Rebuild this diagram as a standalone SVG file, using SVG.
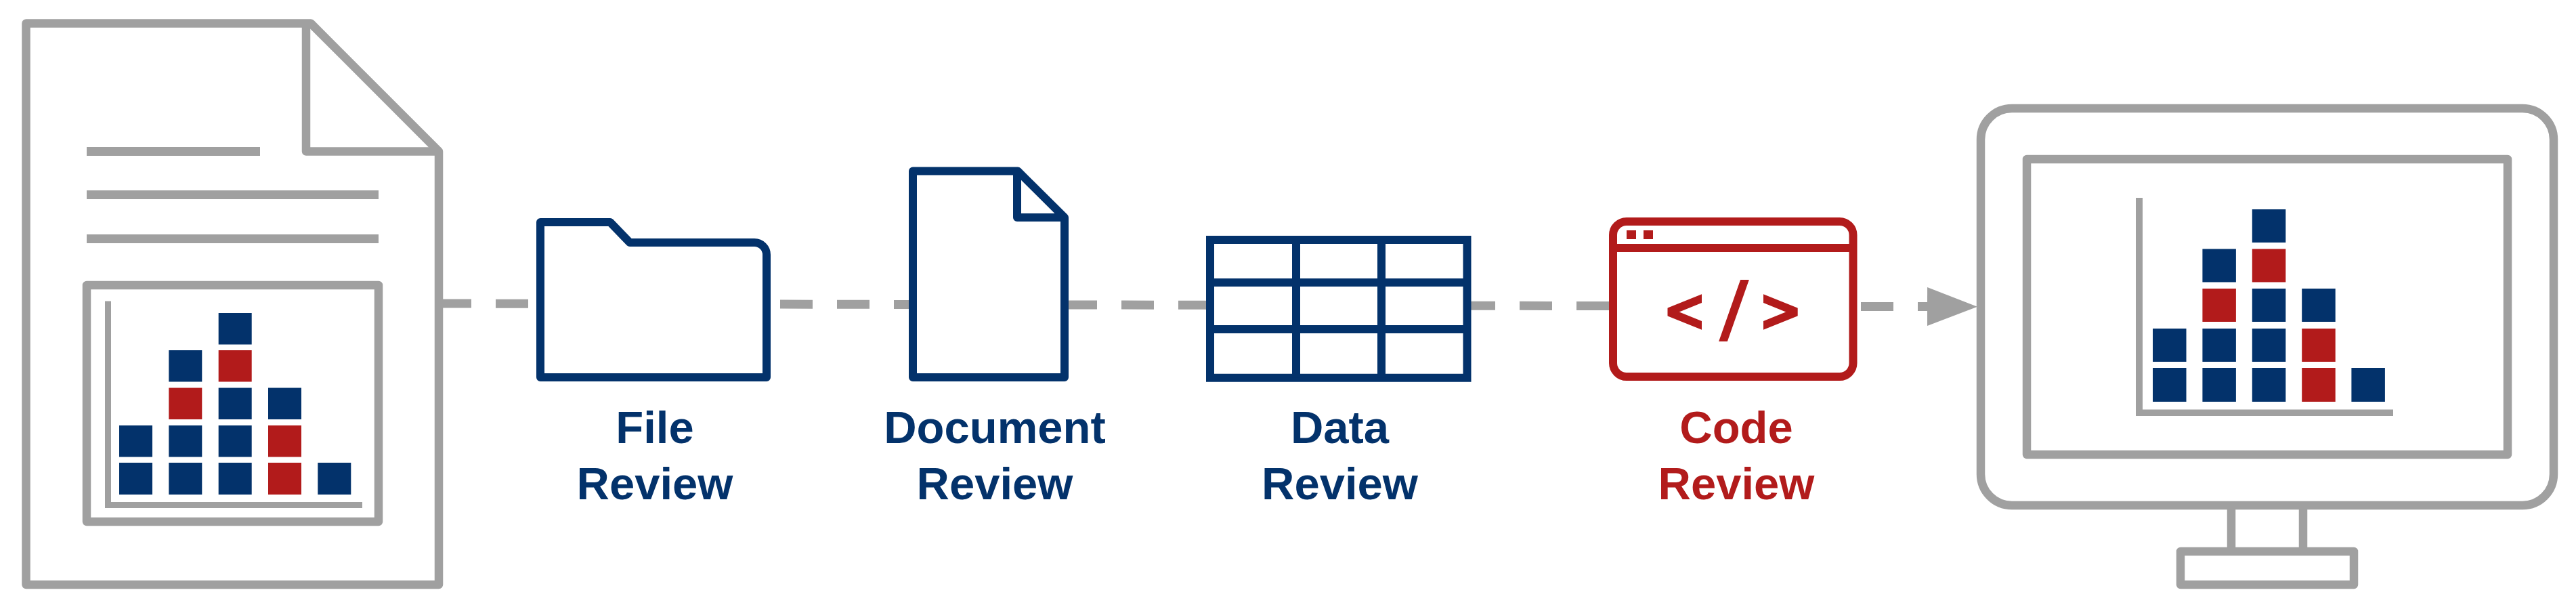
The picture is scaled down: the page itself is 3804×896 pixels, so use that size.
<svg xmlns="http://www.w3.org/2000/svg" width="3804" height="896" viewBox="0 0 3804 896">
<style>
.g{fill:#fff;stroke:#a0a0a0;stroke-width:12.500;stroke-linejoin:round}
.o{fill:none;stroke:#a0a0a0;stroke-width:12.500;stroke-linejoin:round}
.n{fill:#fff;stroke:#03326b;stroke-width:12;stroke-linejoin:round}
.nl{fill:none;stroke:#03326b;stroke-width:12;stroke-linejoin:round}
.r{fill:#fff;stroke:#b21b1b;stroke-width:12;stroke-linejoin:round}
.ga{fill:#a0a0a0}
.bn{fill:#03326b}
.br{fill:#b21b1b}
.t{font-family:"Liberation Sans",Arial,sans-serif;font-weight:700;font-size:67px;text-anchor:middle}
.tn{fill:#03326b}
.tr{fill:#b21b1b}
</style>
<defs>
<marker id="arrow" markerUnits="userSpaceOnUse" markerWidth="76" markerHeight="60" viewBox="0 0 76 60" refX="0" refY="30" orient="auto">
<path d="M0 1.500L74 30L0 58.500Z" fill="#a0a0a0"/>
</marker>
<clipPath id="cl"><rect x="2462.500" y="420" width="50.500" height="80"/></clipPath>
<clipPath id="cr"><rect x="2604" y="420" width="50.700" height="80"/></clipPath>
<clipPath id="cs"><rect x="2520" y="413" width="80" height="91"/></clipPath>
</defs>
<rect width="3804" height="896" fill="#fff"/>
<g id="connectors">
<line x1="648" y1="448" x2="2846" y2="452.600" fill="none" stroke="#a0a0a0" stroke-width="13" stroke-dasharray="48 36" marker-end="url(#arrow)"/>
</g>
<g id="report">
<path class="g" d="M38.500 34.500H459L648 223.500V863H38.500Z"/>
<path class="o" d="M452 34.500V223.500H648"/>
<rect class="ga" x="128" y="217" width="256" height="13"/>
<rect class="ga" x="128" y="281" width="431" height="13"/>
<rect class="ga" x="128" y="346" width="431" height="13"/>
<rect class="o" x="128" y="421" width="431" height="349"/>
<path class="ga" d="M155 444.600H164V741H535V750H155Z"/>
<rect class="bn" x="176" y="683" width="49" height="47"/>
<rect class="bn" x="176" y="628" width="49" height="46.500"/>
<rect class="bn" x="249.300" y="683" width="49" height="47"/>
<rect class="bn" x="249.300" y="628" width="49" height="46.500"/>
<rect class="br" x="249.300" y="572.500" width="49" height="46.500"/>
<rect class="bn" x="249.300" y="517" width="49" height="46.500"/>
<rect class="bn" x="322.700" y="683" width="49" height="47"/>
<rect class="bn" x="322.700" y="628" width="49" height="46.500"/>
<rect class="bn" x="322.700" y="572.500" width="49" height="46.500"/>
<rect class="br" x="322.700" y="517" width="49" height="46.500"/>
<rect class="bn" x="322.700" y="462" width="49" height="46.500"/>
<rect class="br" x="396" y="683" width="49" height="47"/>
<rect class="br" x="396" y="628" width="49" height="46.500"/>
<rect class="bn" x="396" y="572.500" width="49" height="46.500"/>
<rect class="bn" x="469.300" y="683" width="49" height="47"/>
</g>
<g id="file-review">
<path class="n" d="M798 328H901L930 358H1114A18 18 0 0 1 1132 376V557H798Z"/>
<text class="t tn" x="967" y="653.500">File</text>
<text class="t tn" x="967" y="736.500">Review</text>
</g>
<g id="document-review">
<path class="n" d="M1348 252.600H1503L1572 321V557H1348Z"/>
<path class="nl" d="M1502 252.600V321H1572"/>
<text class="t tn" x="1469" y="653.500">Document</text>
<text class="t tn" x="1469" y="736.500">Review</text>
</g>
<g id="data-review">
<path class="n" style="stroke-linejoin:miter" d="M1787 354H2166.500V557.700H1787Z"/>
<path class="nl" d="M1787 417H2166.500M1787 486H2166.500M1914 354V557.700M2040 354V557.700"/>
<text class="t tn" x="1978.500" y="653.500">Data</text>
<text class="t tn" x="1978.500" y="736.500">Review</text>
</g>
<g id="code-review">
<rect class="r" x="2382" y="327" width="354.500" height="229" rx="20" ry="20"/>
<line x1="2382" y1="366" x2="2736.500" y2="366" stroke="#b21b1b" stroke-width="12"/>
<rect class="br" x="2402" y="340" width="14" height="13"/>
<rect class="br" x="2427" y="340" width="14" height="13"/>
<polyline clip-path="url(#cl)" points="2533,432.500 2464,460.500 2533,488.500" fill="none" stroke="#b21b1b" stroke-width="12"/>
<polyline clip-path="url(#cr)" points="2584,432.500 2653,460.500 2584,488.500" fill="none" stroke="#b21b1b" stroke-width="12"/>
<line clip-path="url(#cs)" x1="2580" y1="403" x2="2541" y2="514" stroke="#b21b1b" stroke-width="12"/>
<text class="t tr" x="2564" y="653.500">Code</text>
<text class="t tr" x="2564" y="736.500">Review</text>
</g>
<g id="monitor">
<rect class="g" x="3295" y="740" width="106" height="80"/>
<rect class="g" x="3220" y="814" width="256" height="49"/>
<rect class="g" x="2925" y="160" width="846" height="586" rx="46" ry="46"/>
<rect class="o" x="2993" y="235" width="710" height="436"/>
<path class="ga" d="M3154 292H3164V604.600H3534V614H3154Z"/>
<rect class="bn" x="3179" y="543" width="49.500" height="50"/>
<rect class="bn" x="3179" y="485" width="49.500" height="49"/>
<rect class="bn" x="3252.400" y="543" width="49.500" height="50"/>
<rect class="bn" x="3252.400" y="485" width="49.500" height="49"/>
<rect class="br" x="3252.400" y="426" width="49.500" height="49"/>
<rect class="bn" x="3252.400" y="367.500" width="49.500" height="49"/>
<rect class="bn" x="3325.800" y="543" width="49.500" height="50"/>
<rect class="bn" x="3325.800" y="485" width="49.500" height="49"/>
<rect class="bn" x="3325.800" y="426" width="49.500" height="49"/>
<rect class="br" x="3325.800" y="367.500" width="49.500" height="49"/>
<rect class="bn" x="3325.800" y="309" width="49.500" height="49"/>
<rect class="br" x="3399.200" y="543" width="49.500" height="50"/>
<rect class="br" x="3399.200" y="485" width="49.500" height="49"/>
<rect class="bn" x="3399.200" y="426" width="49.500" height="49"/>
<rect class="bn" x="3472.400" y="543" width="49.500" height="50"/>
</g>
</svg>
